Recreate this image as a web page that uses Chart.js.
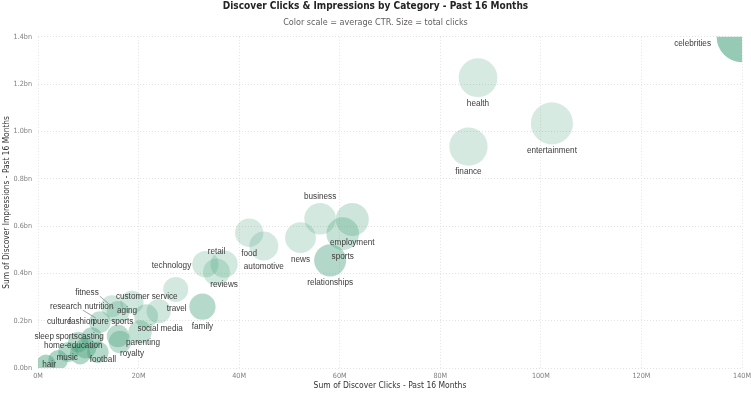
<!DOCTYPE html>
<html><head><meta charset="utf-8">
<script src="https://cdn.jsdelivr.net/npm/chart.js@4.4.1/dist/chart.umd.min.js"></script>
<style>html,body{margin:0;padding:0;background:#fff}#wrap{width:751px;height:398px;position:relative}</style>
</head><body><div id="wrap"><canvas id="c"></canvas></div>
<script>
// ---- data ----
const categories = ['celebrities','health','entertainment','finance','business','employment','sports','relationships','news','food','automotive','technology','retail','reviews','customer service','family','travel','social media','aging','nutrition','fitness','research','pure sports','fashion','culture','parenting','royalty','sportscasting','sleep','home-education','football','music','hair'];
const clicksM = [140, 87.5, 102.2, 85.6, 56.1, 62.5, 60.6, 58.1, 52.2, 42.0, 44.9, 33.3, 35.5, 37.0, 27.4, 32.7, 24.0, 21.5, 18.7, 14.7, 15.9, 12.3, 15.9, 10.7, 8.0, 20.3, 16.3, 9.5, 6.0, 8.4, 11.9, 4.0, 1.6];
const impressionsBn = [1.40, 1.227, 1.034, 0.936, 0.631, 0.628, 0.568, 0.455, 0.551, 0.572, 0.516, 0.439, 0.406, 0.439, 0.332, 0.259, 0.240, 0.219, 0.278, 0.261, 0.236, 0.194, 0.135, 0.127, 0.110, 0.152, 0.110, 0.084, 0.067, 0.059, 0.067, 0.034, 0.017];
const avgCtrPct = [10.8, 5.4, 5.4, 5.5, 5.6, 6.2, 6.8, 8.4, 5.6, 5.5, 5.5, 5.6, 5.8, 5.6, 5.7, 8.2, 6.0, 6.6, 5.9, 6.0, 6.6, 7.2, 7.8, 8.2, 8.0, 7.0, 7.4, 8.4, 8.4, 8.6, 8.2, 8.8, 9.2];
const xTickLabels = ['0M','20M','40M','60M','80M','100M','120M','140M'];
const yTickLabels = ['0.0bn','0.2bn','0.4bn','0.6bn','0.8bn','1.0bn','1.2bn','1.4bn'];

const TITLE = 'Discover Clicks & Impressions by Category - Past 16 Months';
const SUBTITLE = 'Color scale = average CTR. Size = total clicks';
const X_TITLE = 'Sum of Discover Clicks - Past 16 Months';
const Y_TITLE = 'Sum of Discover Impressions - Past 16 Months';

// ---- styles ----
const NARROW = '"Liberation Sans Narrow", "DejaVu Sans Condensed", Roboto, sans-serif';
const LABEL_FONT = '"Liberation Sans", Arial, sans-serif';
function fitSize(text, family, weight, target) {
  const c = document.createElement('canvas').getContext('2d');
  c.font = weight + ' 100px ' + family;
  return 100 * target / c.measureText(text).width;
}
const titleSize = fitSize(TITLE, NARROW, 'bold', 306);
const subSize = fitSize(SUBTITLE, NARROW, 'normal', 185);
const xtSize = fitSize(X_TITLE, NARROW, 'normal', 153);
const ytSize = fitSize(Y_TITLE, NARROW, 'normal', 173);
const tickSize = fitSize('0.4bn', NARROW, 'normal', 18.5);
const labelSize = fitSize('entertainment', LABEL_FONT, 'normal', 50);

function bubbleRadius(c) { return 9.4 + 0.114 * c; }
function ctrColor(v) {
  const a = Math.max(0.2, Math.min(0.6, 0.2 + (v - 5) / 6 * 0.38));
  return 'rgba(72,162,124,' + a.toFixed(3) + ')';
}

// label placement (style only)
const labelPlacement = {
  'celebrities': {dx: -31, dy: 7, align: 'right'},
  'business': 'above',
  'retail': 'above',
  'technology': 'left',
  'customer service': {dx: -29, dy: 7},
  'travel': {dx: 18, dy: -2},
  'social media': {dx: 14, dy: 13},
  'aging': {dx: -5, dy: 9},
  'nutrition': {dx: -13, dy: 0},
  'fitness': {dx: -31, dy: -19, leader: true},
  'research': {dx: -34, dy: -15, leader: true},
  'pure sports': {dx: -5, dy: -14},
  'fashion': {dx: -10, dy: -16},
  'culture': {dx: -19, dy: -20},
  'parenting': {dx: 3, dy: 11},
  'royalty': {dx: 12, dy: 12},
  'sportscasting': {dx: -6, dy: -11},
  'sleep': {dx: -24, dy: -15},
  'home-education': {dx: -7, dy: -8},
  'football': {dx: 5, dy: 8},
  'music': {dx: 9, dy: -2},
  'hair': {dx: 3, dy: 0.5}
};

const labelPlugin = {
  id: 'bubbleLabels',
  afterDatasetsDraw(chart) {
    const ctx = chart.ctx;
    const meta = chart.getDatasetMeta(0);
    ctx.save();
    ctx.font = labelSize.toFixed(2) + 'px ' + LABEL_FONT;
    ctx.textBaseline = 'middle';
    meta.data.forEach((el, i) => {
      const name = categories[i];
      const r = el.options.radius;
      const spec = labelPlacement[name] || 'below';
      let x = el.x, y = el.y, align = 'center';
      if (spec === 'below') { y = el.y + r + 6.5; }
      else if (spec === 'above') { y = el.y - r - 6.5; }
      else if (spec === 'left') { x = el.x - r - 1; y = el.y + 1.5; align = 'right'; }
      else { x = el.x + spec.dx; y = el.y + spec.dy; if (spec.align) align = spec.align; }
      if (spec.leader) {
        const w = ctx.measureText(name).width;
        ctx.strokeStyle = '#8a8a8a';
        ctx.lineWidth = 0.8;
        ctx.beginPath();
        ctx.moveTo(x + w / 2 + 1, y + 3);
        ctx.lineTo(el.x - 4, el.y - 4);
        ctx.stroke();
      }
      ctx.fillStyle = '#3b3b3b';
      ctx.textAlign = align;
      ctx.fillText(name, x, y);
    });
    ctx.restore();
  }
};

const points = categories.map((n, i) => ({x: clicksM[i], y: impressionsBn[i]}));

new Chart(document.getElementById('c'), {
  type: 'bubble',
  data: {
    datasets: [{
      label: 'Categories',
      data: points,
      radius: ctx => bubbleRadius(clicksM[ctx.dataIndex]),
      backgroundColor: ctx => ctrColor(avgCtrPct[ctx.dataIndex]),
      borderWidth: 0,
      hoverRadius: 0
    }]
  },
  options: {
    responsive: true,
    maintainAspectRatio: false,
    animation: false,
    events: [],
    layout: {autoPadding: false, padding: {left: 0, right: 0, top: 0, bottom: 0}},
    plugins: {
      legend: {display: false},
      tooltip: {enabled: false},
      title: {display: true, text: TITLE, color: '#252423',
        font: {family: NARROW, weight: 'bold', size: titleSize, lineHeight: 1},
        padding: {top: 1, bottom: 0}},
      subtitle: {display: true, text: SUBTITLE, color: '#605E5C',
        font: {family: NARROW, weight: 'normal', size: subSize, lineHeight: 1.2},
        padding: {top: 6, bottom: 9}}
    },
    scales: {
      x: {
        type: 'linear', min: 0, max: 140,
        ticks: {stepSize: 20, color: '#808080', padding: 4, maxRotation: 0,
          font: {family: NARROW, size: tickSize},
          callback: (v, i) => xTickLabels[i]},
        grid: {color: '#e2e2e2', drawTicks: false, lineWidth: 1},
        border: {display: false, dash: [1, 2]},
        title: {display: true, text: X_TITLE, color: '#333333',
          font: {family: NARROW, size: xtSize, lineHeight: 1.2}, padding: {top: 0, bottom: 7}},
        afterFit: s => { s.height = 30; s.paddingRight = 9; }
      },
      y: {
        type: 'linear', min: 0, max: 1.4,
        ticks: {stepSize: 0.2, color: '#808080', padding: 6,
          font: {family: NARROW, size: tickSize},
          callback: (v, i) => yTickLabels[i]},
        grid: {color: '#e2e2e2', drawTicks: false, lineWidth: 1},
        border: {display: false, dash: [1, 2]},
        title: {display: true, text: Y_TITLE, color: '#333333',
          font: {family: NARROW, size: ytSize, lineHeight: 1.2}, padding: {top: 2, bottom: 0}},
        afterFit: s => { s.width = 38; }
      }
    }
  },
  plugins: [labelPlugin]
});
</script>
</body></html>
